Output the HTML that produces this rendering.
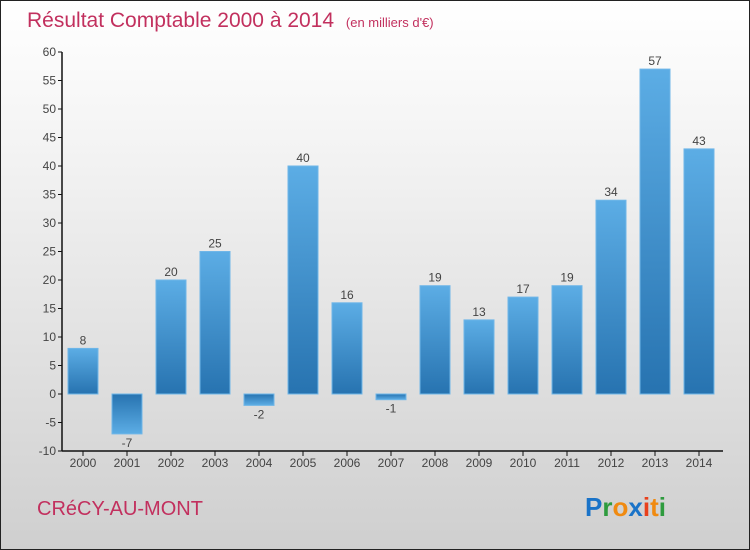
<!DOCTYPE html>
<html><head><meta charset="utf-8"><style>
body{margin:0}
#c{position:relative;width:748px;height:548px;border:1px solid #222;background:linear-gradient(#ffffff,#f4f4f4 25%,#cfcfcf);overflow:hidden;font-family:"Liberation Sans",sans-serif}
</style></head><body>
<div id="c">
<svg width="748" height="548" style="position:absolute;left:0;top:0" id="svg">
<defs>
<linearGradient id="gp" x1="0" y1="0" x2="0" y2="1"><stop offset="0" stop-color="#5cade5"/><stop offset="1" stop-color="#2773b0"/></linearGradient>
<linearGradient id="gn" x1="0" y1="0" x2="0" y2="1"><stop offset="0" stop-color="#2773b0"/><stop offset="1" stop-color="#5cade5"/></linearGradient>
</defs>
<text x="26" y="26" font-size="21" fill="#c2305e">Résultat Comptable 2000 à 2014 <tspan font-size="13" dx="6">(en milliers d'€)</tspan></text>
<text x="36" y="514" font-size="20" fill="#c2305e">CRéCY-AU-MONT</text>
<text x="584" y="515" font-size="26" font-weight="bold"><tspan fill="#1a73c8">P</tspan><tspan fill="#2e9b3e">r</tspan><tspan fill="#f08a10">o</tspan><tspan fill="#1a73c8">x</tspan><tspan fill="#e8401c">i</tspan><tspan fill="#f08a10">t</tspan><tspan fill="#2e9b3e">i</tspan></text>
<g id="plot"></g>
</svg>
</div>
<script>
const years=["2000","2001","2002","2003","2004","2005","2006","2007","2008","2009","2010","2011","2012","2013","2014"];
const values=[8,-7,20,25,-2,40,16,-1,19,13,17,19,34,57,43];
const yTicks=[60,55,50,45,40,35,30,25,20,15,10,5,0,-5,-10];
const ns="http://www.w3.org/2000/svg";
const g=document.getElementById('plot');
const y=v=>393-v*5.7;
const x=i=>82+i*44;
function mk(t,a){const e=document.createElementNS(ns,t);for(const k in a)e.setAttribute(k,a[k]);g.appendChild(e);return e;}
let e=mk('line',{x1:61,y1:51,x2:61,y2:450,stroke:'#111','stroke-width':1.5});

e=mk('line',{x1:61,y1:450,x2:722,y2:450,stroke:'#111','stroke-width':1.5});

yTicks.forEach(v=>{
 const t=mk('line',{x1:57,y1:y(v),x2:61,y2:y(v),stroke:'#111'});
 
 const l=mk('text',{x:55,y:y(v)+4,'font-size':12,'text-anchor':'end',fill:'#444'});l.textContent=v;
 
});
years.forEach((yr,i)=>{
 const v=values[i];
 const t=mk('line',{x1:x(i),y1:450,x2:x(i),y2:455,stroke:'#111'});
 
 const l=mk('text',{x:x(i),y:466,'font-size':12,'text-anchor':'middle',fill:'#444'});l.textContent=yr;
 
 const top=Math.min(y(v),y(0)),h=Math.abs(y(v)-y(0));
 const b=mk('rect',{x:x(i)-15,y:top,width:30,height:h,fill:v>=0?'url(#gp)':'url(#gn)',stroke:'#6fb6e8','stroke-width':1});
 
 const vl=mk('text',{x:x(i),y:v>=0?y(v)-4:y(v)+13,'font-size':12,'text-anchor':'middle',fill:'#444'});vl.textContent=v;
 
});
</script>
</body></html>
